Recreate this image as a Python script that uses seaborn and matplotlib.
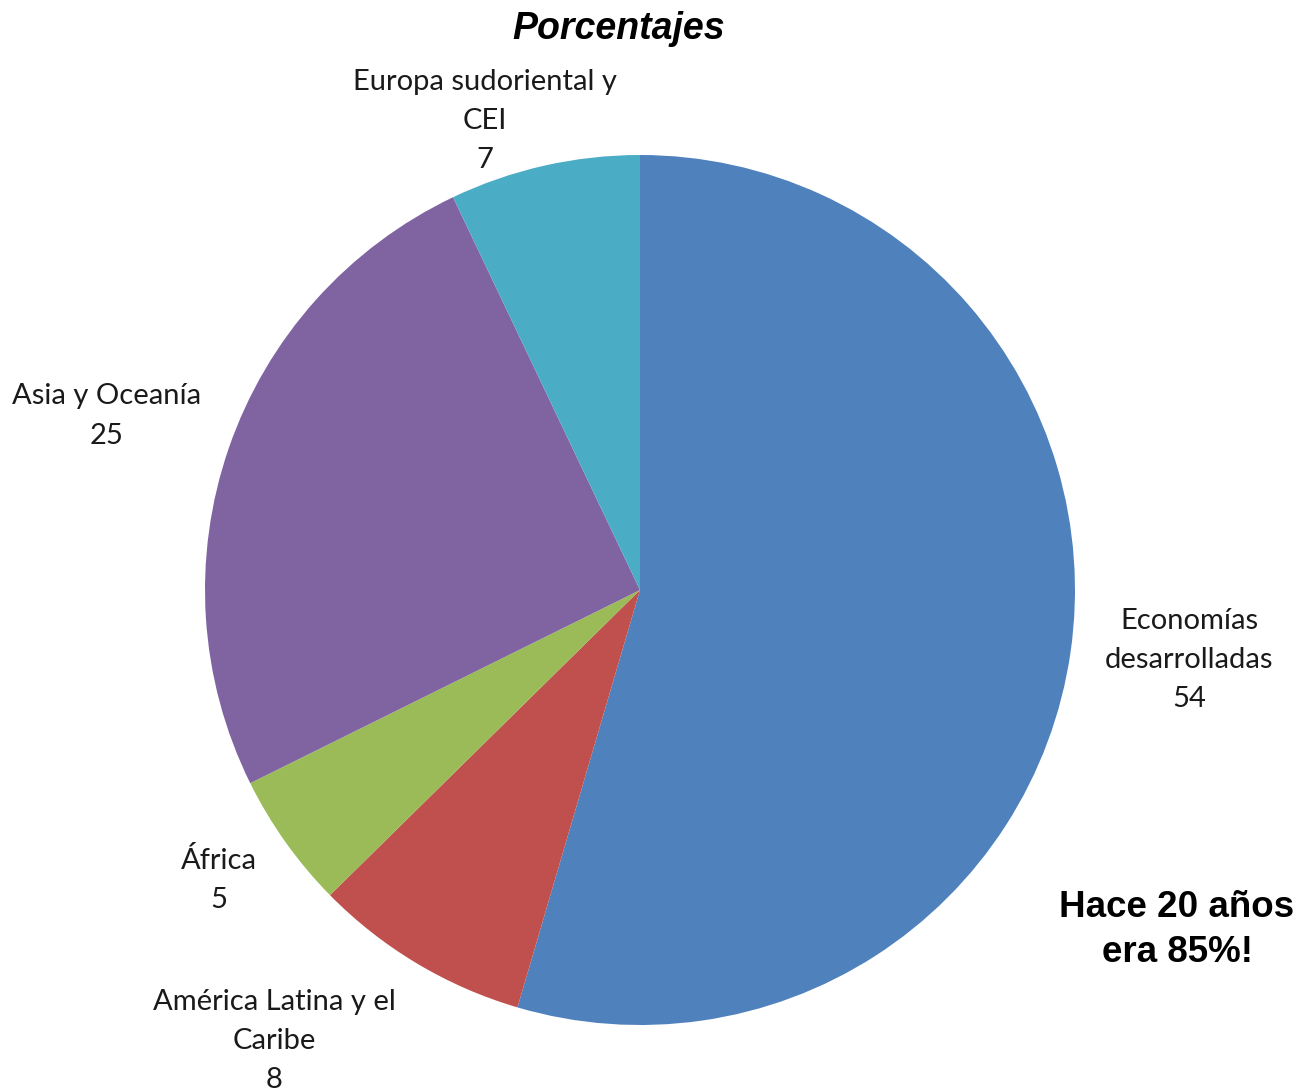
import matplotlib
matplotlib.use("Agg")
import matplotlib.pyplot as plt
import seaborn as sns

sns.set_style("white")
plt.rcParams["font.family"] = ["Lato", "DejaVu Sans"]

# data
regions = ["Economías\ndesarrolladas", "América Latina y el\nCaribe", "África",
           "Asia y Oceanía", "Europa sudoriental y\nCEI"]
shares = [54, 8, 5, 25, 7]
colors = sns.color_palette(["#4F81BD", "#C0504D", "#9BBB59", "#8064A2", "#4BACC6"])

# label anchors in pixels (x, y from top)
label_px = [(1189, 660), (274, 1041), (219, 880), (107, 416), (485, 121)]

W, H = 1299, 1092
fig = plt.figure(figsize=(W / 100, H / 100), dpi=100)

cx, cy, r = 640, 590, 435
ax = fig.add_axes([(cx - r) / W, (H - cy - r) / H, 2 * r / W, 2 * r / H])
ax.pie(shares, colors=colors, startangle=90, counterclock=False, radius=1,
       wedgeprops=dict(linewidth=0))
ax.set_xlim(-1, 1)
ax.set_ylim(-1, 1)
ax.set_aspect("equal")
ax.axis("off")

for name, val, (px, py) in zip(regions, shares, label_px):
    fig.text(px / W, 1 - py / H, f"{name}\n{val}", ha="center", va="center",
             fontsize=21, color="#1a1a1a", linespacing=1.62)

fig.text(619 / W, 1 - 29 / H, "Porcentajes", ha="center", va="center",
         fontsize=27, fontweight="bold", fontstyle="italic", color="black",
         family=["Liberation Sans", "DejaVu Sans"])
fig.text(1177 / W, 1 - 930 / H, "Hace 20 años\nera 85%!", ha="center", va="center",
         fontsize=26.5, fontweight="bold", linespacing=1.4, color="black",
         family=["Liberation Sans", "DejaVu Sans"])

fig.savefig("out.png", dpi=100)
